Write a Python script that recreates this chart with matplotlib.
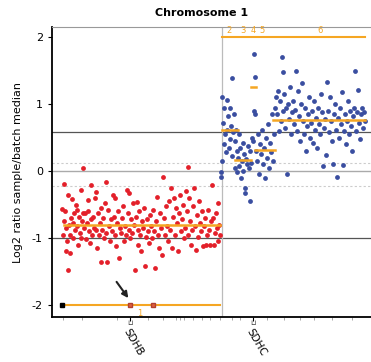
import matplotlib.pyplot as plt

# probe positions (x) and log2 ratios (y), chromosome 1
red_x = [10, 11, 12, 12.5, 13, 14, 14.5, 15, 16, 16.5, 17, 18, 18.5, 19, 20,
         21, 21.5, 22, 23, 24, 25, 25.5, 26, 27, 28, 29, 29.5, 30,
         31, 31.5, 32, 33, 34, 35, 36, 36.5, 37, 38, 39, 39.5, 40,
         41, 42, 43, 44, 44.5, 45, 46, 47, 48, 49, 49.5, 50,
         51, 52, 53, 54, 54.5, 55, 56, 57, 58, 59, 60,
         61, 62, 63, 63.5, 64, 65, 66, 67, 68, 69, 70,
         71, 72, 73, 74, 75, 76, 77, 77.5, 78, 79, 80,
         81, 82, 83, 84, 85, 86, 86.5, 87, 88, 89, 90,
         91, 92, 93, 94, 95, 96, 97, 98, 99, 100,
         101, 102, 103, 104, 105, 106, 107, 108, 109, 110,
         111, 112, 113, 114, 115, 116, 117, 118, 119, 120,
         121, 122, 123, 124, 125, 126, 127, 128, 129, 130,
         131, 132, 133, 134, 135, 136, 136.5, 137, 138, 139, 140,
         141, 142, 143, 144, 145, 146, 147, 148, 149, 150,
         151, 152, 153, 154, 155, 156, 157, 158, 159, 160,
         161, 162, 163, 164, 165, 166, 166.5, 167, 168]
red_y = [-0.57, -0.95, -0.19, -0.75, -0.6, -1.2, -0.85, -1.05, -0.36, -1.48, -0.8, -0.95, -1.22, -0.7, -0.42,
         -0.78, -1.0, -0.62, -0.88, -0.51, -0.58, -0.82, -1.1, -0.68, -0.92, -0.28, -1.0, -0.75,
         0.04, -0.62, -0.85, -0.62, -1.02, -0.78, -0.43, -0.6, -0.9, -1.08, -0.2, -0.72, -0.95,
         -0.68, -0.85, -0.4, -0.31, -0.88, -1.15, -0.62, -0.95, -0.78, -1.35, -0.55, -0.88,
         -0.7, -1.0, -0.48, -0.16, -0.92, -1.36, -0.58, -0.82, -1.05, -0.72, -0.9,
         -0.35, -0.68, -0.4, -0.95, -1.12, -0.78, -0.6, -1.3, -0.85, -0.92, -0.7,
         -0.52, -1.05, -0.82, -0.95, -0.28, -0.62, -0.33, -0.88, -1.0, -0.72, -0.92,
         -0.48, -0.8, -1.47, -0.68, -0.46, -1.1, -0.88, -0.6, -0.95, -1.2, -0.75,
         -0.85, -0.55, -1.42, -0.98, -0.72, -0.9, -1.08, -0.65, -0.82, -1.0,
         -0.58, -0.9, -1.45, -0.75, -0.38, -0.95, -1.15, -0.62, -0.85, -1.25,
         -0.09, -0.7, -0.95, -0.52, -0.82, -1.05, -0.45, -0.88, -0.25, -1.15,
         -0.68, -0.4, -0.95, -0.55, -0.78, -1.2, -0.62, -0.35, -0.9, -0.72,
         -0.5, -1.0, -0.85, -0.3, -0.6, 0.06, -0.95, -0.4, -0.75, -1.1, -0.88,
         -0.52, -0.25, -0.82, -1.18, -0.65, -0.98, -0.45, -0.78, -0.9, -0.6,
         -1.12, -0.82, -0.7, -1.1, -0.95, -0.58, -0.88, -1.1, -0.75, -0.21,
         -0.7, -1.1, -0.92, -0.62, -0.85, -1.05, -0.48, -0.8, -0.95]

blue_x = [169, 169.5, 170, 170.5, 171, 172, 172.5, 173, 174, 175, 175.5, 176, 177, 178, 178.5, 179, 180, 180.5, 181, 182, 183, 183.5,
          184, 185, 185.5, 186, 187, 187.5, 188, 189, 190, 191, 191.5, 192, 193, 193.5, 194, 195, 196, 197, 198, 198.5, 199,
          200, 201, 202, 202.5, 203, 203.5,
          204, 205, 206, 207, 208, 209, 210, 211, 212, 213, 214, 215, 216, 217, 218, 219, 220, 221, 222, 223,
          224, 225, 226, 227, 228, 229, 230, 231, 231.5, 232, 233, 234, 235, 236, 237, 238, 239, 240, 241, 242,
          243, 244, 245, 246, 247, 248, 249, 250, 251, 252, 253, 254, 255, 256, 257, 258, 259, 260, 261, 262,
          263, 264, 265, 266, 267, 268, 269, 270, 271, 272, 273, 274, 275, 276, 277, 278, 279, 280, 281, 282,
          283, 284, 285, 286, 287, 288, 289, 290, 291, 292, 293, 294, 295, 296, 297, 298, 299, 300, 301, 302,
          303, 304, 305, 306, 307, 308, 309, 310, 311, 312, 313]
blue_y = [-0.09, -0.02, 1.1, 0.15, 0.72, 0.4, 0.95, 0.55, 0.28, 1.06, 0.62, 0.82, 0.35, 0.95, 0.48, 0.68, 1.39, 0.22, 0.58, 0.85, 0.05, 0.45,
          0.62, 0.3, -0.02, 0.2, 0.55, 0.08, 0.35, -0.1, 0.15, 0.42, 0.0, 0.25, -0.25, -0.33, 0.18, 0.1, 0.38, 0.05, -0.45, 0.3, 0.12,
          0.5, 0.45, 1.75, 0.9, 1.41, 0.85,
          0.3, 0.15, 0.55, -0.05, 0.4, 0.25, 0.62, 0.1, 0.35, -0.1, 0.5, 0.2, 0.7, 0.05, 0.42, 0.28, 0.85, 0.15, 0.55, 0.95,
          1.1, 0.85, 1.2, 0.6, 1.05, 0.75, 1.7, 1.48, 0.9, 1.15, 0.65, 0.95, -0.05, 1.0, 0.78, 1.25, 0.55, 0.88, 1.05, 0.7,
          0.92, 1.5, 0.6, 1.2, 0.82, 0.45, 1.0, 1.31, 0.75, 0.55, 0.95, 0.3, 0.68, 0.85, 1.1, 0.5, 0.72, 0.9, 0.42, 1.05,
          0.62, 0.8, 0.35, 0.95, 0.7, 0.55, 1.15, 0.88, 0.07, 0.65, 0.78, 0.24, 1.33, 0.9, 0.58, 1.1, 0.75, 0.45, 0.1, 0.85,
          1.0, 0.62, -0.09, 0.8, 0.5, 0.95, 0.7, 1.18, 0.09, 0.6, 0.85, 0.4, 0.75, 1.05, 0.55, 0.9, 0.68, 0.3, 0.82, 0.95,
          1.5, 0.6, 0.88, 1.21, 0.72, 0.48, 0.85, 0.95, 0.65, 0.88, 0.75]

# segments: start, end, mean
seg_start = [12, 170, 183, 199, 203, 221]
seg_end = [168, 186, 199, 204, 223, 313]
seg_mean = [-0.8, 0.62, 0.16, 1.25, 0.31, 0.77]
seg_names = ['1', '2', '3', '4', '5', '6']
seg_label_x = [88, 177, 191, 201, 210, 268]

minor_ticks = [11, 30, 65, 96, 111, 124, 128, 132, 141, 150, 158, 168,
               180, 188, 215, 232, 248, 262, 280, 300]
gene_x = [78, 201]
gene_names = ['SDHB', 'SDHC']

orange = '#f5a623'

fig = plt.figure(figsize=(3.71, 3.62), dpi=100)
ax = fig.add_axes([0.14, 0.124, 0.86, 0.801])

ax.axhline(0, color='#aaaaaa', lw=1.0, zorder=1)
ax.axhline(0.58, color='#555555', lw=0.9, zorder=1)
ax.axhline(-1, color='#555555', lw=0.9, zorder=1)
ax.axhline(0.12, color='#cccccc', lw=0.8, ls=(0, (2, 2)), zorder=1)
ax.axhline(-0.22, color='#cccccc', lw=0.8, ls=(0, (2, 2)), zorder=1)
ax.axvline(170, color='#bbbbbb', lw=0.9, zorder=1)

ax.scatter(red_x, red_y, s=12, color='#e3202a', lw=0, zorder=3)
ax.scatter(blue_x, blue_y, s=12, color='#3a4ea0', lw=0, zorder=3)

for s, e, m in zip(seg_start, seg_end, seg_mean):
    ax.plot([s, e], [m, m], color=orange, lw=1.8, zorder=4)

# segment index bars
ax.plot([170, 313], [2, 2], color=orange, lw=1.5, zorder=4)
ax.plot([10, 168], [-2, -2], color=orange, lw=1.5, zorder=4)
for name, lx in zip(seg_names[1:], seg_label_x[1:]):
    ax.text(lx, 2.04, name, color=orange, fontsize=6, ha='center', va='bottom')
ax.text(seg_label_x[0], -2.06, seg_names[0], color=orange, fontsize=6, ha='center', va='top')

ax.plot([10], [-2], marker='s', ms=3.5, color='black', zorder=5)
ax.plot([78, 101], [-2, -2], ls='none', marker='s', ms=3.5, mfc='#e06040', mec='#b04030', zorder=5)
ax.annotate('', xy=(78, -1.93), xytext=(63, -1.62),
            arrowprops=dict(arrowstyle='-|>', color='#222222', lw=1.5, mutation_scale=9))

ax.set_xlim(0, 319)
ax.set_ylim(-2.18, 2.15)
ax.set_yticks([-2, -1, 0, 1, 2])
ax.set_yticklabels(['-2', '-1', '0', '1', '2'], fontsize=8)
ax.set_xticks(gene_x)
ax.set_xticklabels(gene_names, rotation=-60, ha='left', va='top', fontsize=7.5,
                   rotation_mode='anchor')
ax.set_xticks(minor_ticks, minor=True)
ax.tick_params(axis='x', which='minor', length=2, color='#999999', width=0.6)
ax.tick_params(axis='x', which='major', length=3, width=0.8, pad=4)
ax.tick_params(axis='y', length=3, width=0.8)
ax.set_ylabel('Log2 ratio sample/batch median', fontsize=8, labelpad=6)

# small gene brackets under the axis
for gx in gene_x:
    ax.text(gx, -2.22, '\u2294', fontsize=5, ha='center', va='top', color='#333333',
            clip_on=False)

ax.spines['right'].set_visible(False)
ax.spines['top'].set_color('#999999')
ax.spines['left'].set_linewidth(1.3)
ax.spines['bottom'].set_linewidth(1.3)

fig.text(0.542, 0.965, 'Chromosome 1', fontsize=8, fontweight='bold', ha='center', va='center')

fig.savefig('out.png', dpi=100)
